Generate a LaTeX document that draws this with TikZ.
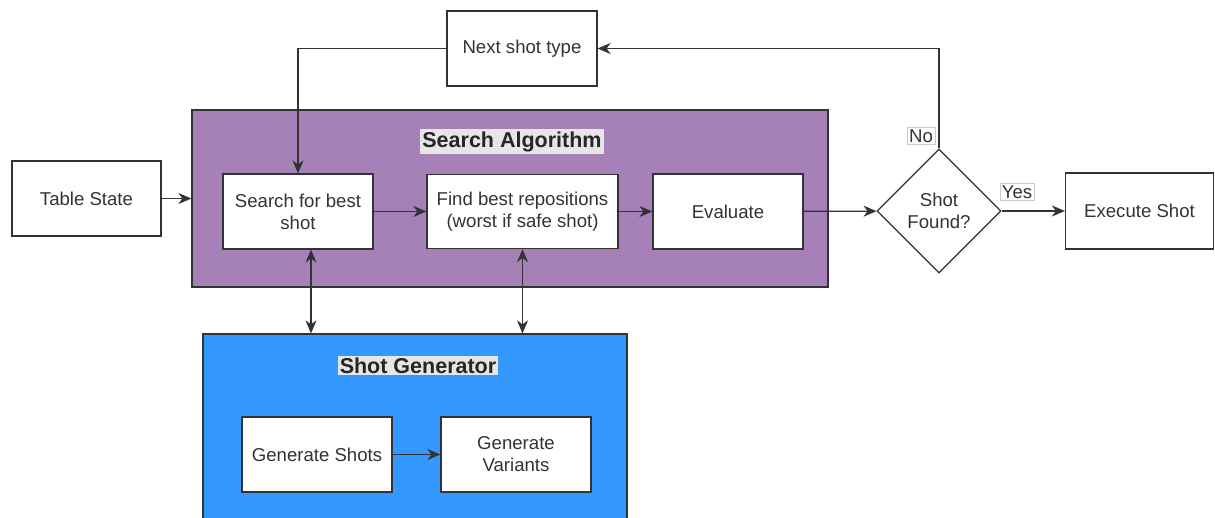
\documentclass[tikz,border=0pt]{standalone}
\usepackage{fontspec}
\setmainfont{Liberation Sans}
\usetikzlibrary{arrows.meta,shapes.geometric}
\definecolor{lineclr}{HTML}{333333}
\definecolor{txtclr}{HTML}{333333}
\definecolor{purplefill}{HTML}{A680B8}
\definecolor{bluefill}{HTML}{3399FF}
\definecolor{titlebg}{HTML}{E6E6E6}
\tikzset{
  tip/.style={Stealth[length=13pt,width=11pt,inset=4pt]},
  stepbox/.style={draw=lineclr, line width=1.2pt, fill=white, text=txtclr,
    align=center, inner sep=2pt, font=\fontsize{18.6}{22}\selectfont},
  groupbox/.style={draw=lineclr, line width=1.2pt, inner sep=0pt},
  grouptitle/.style={fill=titlebg, text=black!85, inner sep=2pt,
    font=\fontsize{21.5}{25}\selectfont\bfseries},
  edgelabel/.style={draw=lineclr!25, fill=white, text=txtclr, inner sep=2pt,
    font=\fontsize{18.6}{22}\selectfont},
  arr/.style={draw=lineclr, line width=1.2pt, -{Stealth[length=13pt,width=11pt,inset=4pt]}},
  biarr/.style={draw=lineclr, line width=1.2pt,
    {Stealth[length=13pt,width=11pt,inset=4pt]}-{Stealth[length=13pt,width=11pt,inset=4pt]}},
}
\begin{document}
\begin{tikzpicture}[x=1pt,y=-1pt]
\clip (0,0) rectangle (1215,518);
\fill[white] (0,0) rectangle (1215,518);

% group containers
\node[groupbox, fill=purplefill, minimum width=636pt, minimum height=177pt] (search-grp) at (510,198.5) {};
\node[groupbox, fill=bluefill, minimum width=424pt, minimum height=200pt] (gen-grp) at (415,434) {};
\node[grouptitle] (search-title) at (512,141.5) {Search Algorithm};
\node[grouptitle] (gen-title) at (418,365.5) {Shot Generator};

% process steps
\node[stepbox, minimum width=149pt, minimum height=75pt] (table) at (86.5,198.5) {Table State};
\node[stepbox, minimum width=150pt, minimum height=75pt] (search) at (298,211.5) {Search for best\\shot};
\node[stepbox, minimum width=191pt, minimum height=74pt] (find) at (522.5,211.5) {Find best repositions\\(worst if safe shot)};
\node[stepbox, minimum width=150pt, minimum height=75pt] (eval) at (728,211.5) {Evaluate};
\node[stepbox, minimum width=150pt, minimum height=75pt] (next) at (522,48.5) {Next shot type};
\node[stepbox, minimum width=148pt, minimum height=76pt] (exec) at (1139.5,211) {Execute Shot};
\node[stepbox, minimum width=150pt, minimum height=75pt] (genshots) at (317,454.5) {Generate Shots};
\node[stepbox, minimum width=150pt, minimum height=75pt] (genvar) at (516,454.5) {Generate\\Variants};

% decision
\node[stepbox, diamond, aspect=1, inner sep=0pt, minimum width=124pt, minimum height=124pt] (found) at (939,211) {Shot\\Found?};

% connectors
\draw[arr] (table.east) -- (table.east -| search-grp.west);
\draw[arr] (search) -- (find);
\draw[arr] (find) -- (eval);
\draw[arr] (eval) -- (found);
\draw[arr] (found.east) -- (exec.west);
\draw[arr] (found.north) |- (next.east);
\draw[arr] (next.west) -| (search.north);
\draw[arr] (genshots) -- (genvar);
\draw[biarr] ([xshift=13pt]search.south) -- ([xshift=13pt]search.south |- gen-grp.north);
\draw[biarr] (find.south) -- (find.south |- gen-grp.north);

% branch labels
\node[edgelabel] (no) at (921,136) {No};
\node[edgelabel] (yes) at (1017,192) {Yes};
\end{tikzpicture}
\end{document}
